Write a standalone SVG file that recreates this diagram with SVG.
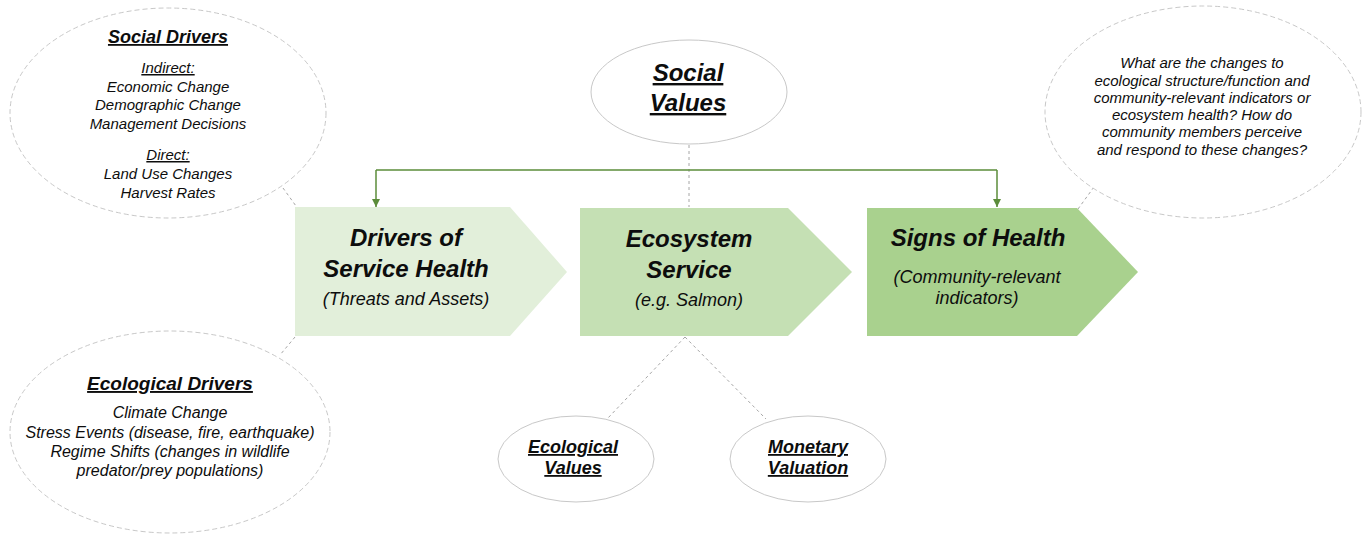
<svg xmlns="http://www.w3.org/2000/svg" width="1367" height="536" viewBox="0 0 1367 536">
<style>
text { font-family: "Liberation Sans", Arial, sans-serif; fill: #0d0d0d; text-anchor: middle; font-style: italic; }
.b { font-weight: bold; }
.u { text-decoration: underline; }
.dashell { fill: #ffffff; stroke: #c8c8c8; stroke-width: 1; stroke-dasharray: 5 3; }
.solidell { fill: #ffffff; stroke: #c8c8c8; stroke-width: 1; }
.dash { stroke: #a6a6a6; stroke-width: 1; stroke-dasharray: 3 3; fill: none; }
.green { stroke: #5b8c3a; stroke-width: 1.5; fill: none; }
</style>
<defs>
<marker id="ah" viewBox="0 0 10 10" refX="10" refY="5" markerWidth="8" markerHeight="8" markerUnits="userSpaceOnUse" orient="auto">
<path d="M0,0 L10,5 L0,10 z" fill="#5b8c3a"/>
</marker>
</defs>
<rect width="1367" height="536" fill="#ffffff"/>
<g id="connectors">
<line class="dash" x1="283" y1="188" x2="296" y2="206"/>
<line class="dash" x1="295" y1="337" x2="280" y2="355"/>
<line class="dash" x1="689" y1="145" x2="689" y2="207"/>
<line class="dash" x1="685" y1="337" x2="608" y2="418"/>
<line class="dash" x1="685" y1="337" x2="766" y2="419"/>
<line class="dash" x1="1078" y1="209" x2="1094" y2="187"/>
<polyline class="green" points="376,170 997,170"/>
<line class="green" x1="376" y1="170" x2="376" y2="207" marker-end="url(#ah)"/>
<line class="green" x1="997" y1="170" x2="997" y2="207" marker-end="url(#ah)"/>
</g>
<g id="social-drivers">
<ellipse class="dashell" cx="168" cy="113" rx="158" ry="105"/>
<text class="b u" x="168" y="43" font-size="18">Social Drivers</text>
<text class="u" x="168" y="73" font-size="15">Indirect:</text>
<text x="168" y="92" font-size="15">Economic Change</text>
<text x="168" y="110" font-size="15">Demographic Change</text>
<text x="168" y="129" font-size="15">Management Decisions</text>
<text class="u" x="168" y="160" font-size="15">Direct:</text>
<text x="168" y="179" font-size="15">Land Use Changes</text>
<text x="168" y="198" font-size="15">Harvest Rates</text>
</g>
<g id="ecological-drivers">
<ellipse class="dashell" cx="170" cy="432" rx="160" ry="101"/>
<text class="b u" x="170" y="390" font-size="19">Ecological Drivers</text>
<text x="170" y="418" font-size="16">Climate Change</text>
<text x="170" y="438" font-size="16">Stress Events (disease, fire, earthquake)</text>
<text x="170" y="457" font-size="16">Regime Shifts (changes in wildlife</text>
<text x="170" y="476" font-size="16">predator/prey populations)</text>
</g>
<g id="social-values">
<ellipse class="solidell" cx="689" cy="92" rx="98" ry="52"/>
<text class="b u" x="688" y="81" font-size="24">Social</text>
<text class="b u" x="688" y="111" font-size="24">Values</text>
</g>
<g id="question">
<ellipse class="dashell" cx="1203" cy="112" rx="158" ry="106"/>
<text x="1202" y="68" font-size="15">What are the changes to</text>
<text x="1202" y="86" font-size="15">ecological structure/function and</text>
<text x="1202" y="103" font-size="15">community-relevant indicators or</text>
<text x="1202" y="120" font-size="15">ecosystem health? How do</text>
<text x="1202" y="137" font-size="15">community members perceive</text>
<text x="1202" y="155" font-size="15">and respond to these changes?</text>
</g>
<g id="drivers-of-service-health">
<polygon points="295,207 510,207 567,272 510,336 295,336" fill="#e2efda"/>
<text class="b" x="406" y="246" font-size="24">Drivers of</text>
<text class="b" x="406" y="277" font-size="24">Service Health</text>
<text x="406" y="305" font-size="18">(Threats and Assets)</text>
</g>
<g id="ecosystem-service">
<polygon points="580,208 788,208 852,272 788,336 580,336" fill="#c5e0b4"/>
<text class="b" x="689" y="247" font-size="24">Ecosystem</text>
<text class="b" x="689" y="278" font-size="24">Service</text>
<text x="689" y="306" font-size="18">(e.g. Salmon)</text>
</g>
<g id="signs-of-health">
<polygon points="867,208 1077,208 1138,272 1077,336 867,336" fill="#a9d18e"/>
<text class="b" x="978" y="246" font-size="24">Signs of Health</text>
<text x="977" y="283" font-size="18">(Community-relevant</text>
<text x="977" y="304" font-size="18">indicators)</text>
</g>
<g id="ecological-values">
<ellipse class="solidell" cx="576" cy="459" rx="78" ry="43"/>
<text class="b u" x="573" y="453" font-size="18">Ecological</text>
<text class="b u" x="573" y="474" font-size="18">Values</text>
</g>
<g id="monetary-valuation">
<ellipse class="solidell" cx="808" cy="459" rx="78" ry="43"/>
<text class="b u" x="808" y="453" font-size="18">Monetary</text>
<text class="b u" x="808" y="474" font-size="18">Valuation</text>
</g>
</svg>
